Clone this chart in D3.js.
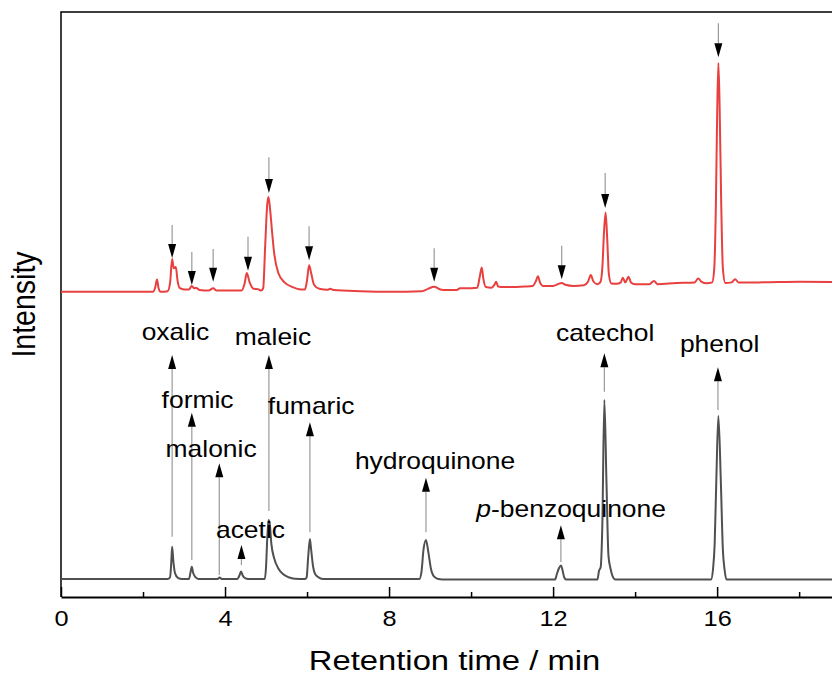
<!DOCTYPE html>
<html lang="en">
<head>
<meta charset="UTF-8">
<title>Chromatogram</title>
<script src="https://cdn.jsdelivr.net/npm/d3@7"></script>
<style>
    body { margin: 0; background: #fff; }
    svg { display: block; }
    text { font-family: "Liberation Sans", Arial, sans-serif; fill: #000; }
</style>
</head>
<body>
<div id="chart"></div>
<script>
    // Standard mixture (bottom trace), [time (min), intensity]
    const standardTrace = [
        [0, 0], [2.6, 0], [2.66, 0.3], [2.69, 3], [2.71, 5.5], [2.74, 3], [2.78, 1], [2.85, 0.2], [2.95, 0],
        [3.12, 0], [3.16, 1.2], [3.19, 2.1], [3.22, 1.1], [3.28, 0.3], [3.35, 0],
        [3.82, 0], [3.87, 0.25], [3.92, 0],
        [4.3, 0], [4.35, 0.6], [4.39, 1.3], [4.43, 0.6], [4.5, 0.1], [4.56, 0],
        [4.97, 0], [5.0, 2], [5.03, 7], [5.06, 10.1], [5.09, 9.5], [5.13, 6], [5.2, 3.5], [5.3, 1.8],
        [5.42, 0.8], [5.55, 0.3], [5.7, 0.05], [5.95, 0],
        [5.99, 0.3], [6.03, 4], [6.07, 6.85], [6.1, 5], [6.15, 2], [6.2, 0.8], [6.3, 0.2], [6.4, 0],
        [8.74, 0], [8.79, 1.2], [8.84, 5], [8.9, 6.65], [8.96, 4.5], [9.02, 1.8], [9.1, 0.4], [9.2, 0], [9.4, -0.1],
        [12.05, -0.1], [12.09, 0.8], [12.14, 1.8], [12.19, 2.3], [12.23, 1.5], [12.27, 0.3], [12.32, -0.1],
        [13.08, -0.1], [13.12, 1.4], [13.16, 2.0], [13.2, 9], [13.25, 30.6], [13.3, 17], [13.35, 4],
        [13.4, 1.8], [13.45, 0.5], [13.52, -0.1],
        [15.85, -0.1], [15.9, 1.7], [15.94, 6], [15.98, 16.8], [16.03, 27.9], [16.09, 16.8], [16.14, 5],
        [16.18, 1.7], [16.23, -0.1],
        [18.85, -0.1]
    ];

    // Reaction sample (top trace), [time (min), intensity], drawn with an offset
    const sampleTrace = [
        [0, 0], [2.25, 0], [2.3, 0.8], [2.34, 2.1], [2.38, 0.6], [2.43, 0], [2.6, 0.1], [2.66, 1.5],
        [2.71, 5.6], [2.75, 4.0], [2.8, 4.25], [2.84, 2.0], [2.9, 0.6], [3.0, 0.4], [3.12, 0.4],
        [3.19, 1.0], [3.25, 0.6], [3.3, 0.65], [3.38, 0.3], [3.6, 0.2], [3.71, 0.6], [3.8, 0.2],
        [4.4, 0.2], [4.48, 1.5], [4.53, 3.2], [4.6, 1.6], [4.7, 0.5], [4.8, 0.45], [4.88, 0.2],
        [4.93, 0.6], [4.98, 8], [5.03, 15], [5.06, 16.2], [5.1, 14], [5.15, 10], [5.2, 6.5], [5.3, 3.2],
        [5.45, 1.6], [5.65, 0.8], [5.85, 0.4], [5.95, 0.4], [6.0, 2], [6.05, 4.55], [6.1, 3.2],
        [6.17, 1.2], [6.3, 0.5], [6.5, 0.35], [6.56, 0.5], [6.65, 0.3], [7.3, 0.1], [8.0, 0],
        [8.8, 0.1], [8.95, 0.5], [9.1, 0.85], [9.25, 0.4], [9.4, 0.3], [9.65, 0.3], [9.73, 0.6],
        [9.85, 0.6], [10.15, 0.7], [10.21, 2.5], [10.26, 4.15], [10.3, 2.2], [10.36, 0.8], [10.5, 0.7],
        [10.57, 1.2], [10.61, 1.7], [10.66, 0.9], [10.8, 0.8], [11.3, 0.9], [11.5, 1.0], [11.58, 1.8],
        [11.63, 2.65], [11.68, 1.6], [11.75, 1.0], [12.0, 1.0], [12.12, 1.3], [12.21, 1.5], [12.3, 1.2],
        [12.5, 1.0], [12.75, 1.1], [12.85, 1.7], [12.92, 2.85], [12.98, 1.8], [13.08, 1.3], [13.15, 1.6],
        [13.2, 4], [13.24, 10], [13.28, 13.55], [13.32, 9], [13.36, 3], [13.42, 1.4], [13.55, 1.35],
        [13.65, 1.6], [13.7, 2.4], [13.76, 1.6], [13.84, 2.55], [13.9, 1.6], [14.0, 1.3], [14.35, 1.3],
        [14.46, 1.85], [14.55, 1.3], [15.0, 1.5], [15.45, 1.6], [15.54, 2.25], [15.62, 1.7], [15.75, 1.45],
        [15.88, 1.6], [15.93, 4], [15.97, 15], [16.0, 30], [16.03, 39.1], [16.06, 32], [16.1, 15],
        [16.14, 4], [16.2, 1.5], [16.35, 1.6], [16.44, 2.15], [16.52, 1.6], [17, 1.6], [18, 1.7], [18.85, 1.65]
    ];
    const sampleOffset = 49.1;

    // Labelled standards (bottom trace)
    const compounds = ['oxalic', 'formic', 'malonic', 'acetic', 'maleic', 'fumaric',
        'hydroquinone', 'p-benzoquinone', 'catechol', 'phenol'];
    const standardTimes = [2.71, 3.19, 3.86, 4.4, 5.07, 6.07, 8.9, 12.19, 13.25, 16.02];
    const arrowFoot = [7.2, 3.25, 0.7, 2.4, 11.6, 8.0, 8.0, 2.9, 32, 28.9];
    const arrowTip = [38.3, 28.4, 19.8, 5.8, 38.3, 26.8, 17.3, 9.2, 38.6, 36.2];
    const labelTime = [2.79, 3.33, 3.66, 4.62, 5.17, 6.10, 9.12, 12.44, 13.27, 16.06];
    const labelLevel = [40.85, 29.2, 20.9, 7.0, 40.0, 28.2, 18.8, 10.65, 40.7, 38.85];

    // Identified peaks in the sample (top trace), relative to the offset
    const sampleTimes = [2.71, 3.19, 3.71, 4.56, 5.07, 6.05, 9.1, 12.21, 13.27, 16.03];
    const sampleArrowTop = [11.4, 6.8, 7.3, 9.4, 23.0, 11.2, 7.45, 7.85, 20.3, 45.9];
    const sampleArrowTip = [5.75, 1.15, 1.7, 3.6, 16.9, 5.4, 1.7, 2.15, 14.3, 40.1];

    const majorTicks = [0, 4, 8, 12, 16];
    const minorTicks = [2, 6, 10, 14, 18];

    const width = 832;
    const height = 676;
    const stretch = 1.15; // text in the figure is slightly wide

    const x = d3.scaleLinear().domain([0, 18.85]).range([61, 834]);
    const y = d3.scaleLinear().domain([-3.08, 96.92]).range([597, 12]);

    const svg = d3.select('#chart')
        .append('svg')
        .attr('width', width)
        .attr('height', height);

    // Frame: top and left edges
    svg.append('path')
        .attr('d', `M${x.range()[1]},${y.range()[1]}H${x.range()[0]}V${y.range()[0]}`)
        .attr('fill', 'none')
        .attr('stroke', '#000')
        .attr('stroke-width', 1.5);

    // Traces
    const line = d3.line()
        .x(d => x(d[0]))
        .y(d => y(d[1]))
        .curve(d3.curveMonotoneX);

    svg.append('path')
        .attr('d', line(standardTrace))
        .attr('fill', 'none')
        .attr('stroke', '#505050')
        .attr('stroke-width', 2);

    svg.append('path')
        .attr('d', line(sampleTrace.map(d => [d[0], d[1] + sampleOffset])))
        .attr('fill', 'none')
        .attr('stroke', '#e8403f')
        .attr('stroke-width', 2);

    // Arrows
    const head = 14;
    const half = 4;

    function arrow(t, from, to) {
        const px = x(t);
        const y0 = y(from);
        const y1 = y(to);
        const dir = y1 < y0 ? 1 : -1; // 1 = pointing up
        svg.append('line')
            .attr('x1', px).attr('x2', px)
            .attr('y1', y0).attr('y2', y1 + dir * head)
            .attr('stroke', '#999')
            .attr('stroke-width', 1.2);
        svg.append('path')
            .attr('d', `M${px},${y1}L${px - half},${y1 + dir * head}L${px + half},${y1 + dir * head}Z`)
            .attr('fill', '#000');
    }

    standardTimes.forEach((t, i) => arrow(t, arrowFoot[i], arrowTip[i]));
    sampleTimes.forEach((t, i) => arrow(t, sampleArrowTop[i] + sampleOffset, sampleArrowTip[i] + sampleOffset));

    // Labels
    compounds.forEach((name, i) => {
        const txt = svg.append('text')
            .attr('transform', `translate(${x(labelTime[i])},${y(labelLevel[i])}) scale(${stretch},1)`)
            .attr('text-anchor', 'middle')
            .attr('font-size', 23);
        if (name.startsWith('p-')) {
            txt.append('tspan').attr('font-style', 'italic').text('p');
            txt.append('tspan').text(name.slice(1));
        } else {
            txt.text(name);
        }
    });

    // X axis
    const axis = svg.append('g')
        .attr('transform', `translate(0,${y.range()[0]})`)
        .call(d3.axisBottom(x).tickValues(majorTicks).tickFormat(d3.format('d'))
            .tickSizeInner(-10).tickSizeOuter(0).tickPadding(13));
    axis.select('.domain').attr('stroke-width', 2);
    axis.selectAll('.tick line').attr('stroke-width', 1.5);
    axis.selectAll('.tick text')
        .attr('font-family', '"Liberation Sans", Arial, sans-serif')
        .attr('font-size', 22)
        .attr('transform', `scale(${stretch},1)`);

    svg.append('g')
        .attr('transform', `translate(0,${y.range()[0]})`)
        .call(d3.axisBottom(x).tickValues(minorTicks).tickFormat('')
            .tickSizeInner(-5).tickSizeOuter(0))
        .call(g => g.select('.domain').remove())
        .selectAll('.tick line').attr('stroke-width', 1.5);

    // Axis titles
    svg.append('text')
        .attr('transform', `translate(${(x.range()[0] + 832) / 2 + 8},670) scale(${stretch},1)`)
        .attr('text-anchor', 'middle')
        .attr('font-size', 28.5)
        .text('Retention time / min');

    svg.append('text')
        .attr('transform', `translate(35,${(y.range()[0] + y.range()[1]) / 2}) rotate(-90) scale(1,${stretch})`)
        .attr('text-anchor', 'middle')
        .attr('font-size', 28.5)
        .text('Intensity');
</script>
</body>
</html>
